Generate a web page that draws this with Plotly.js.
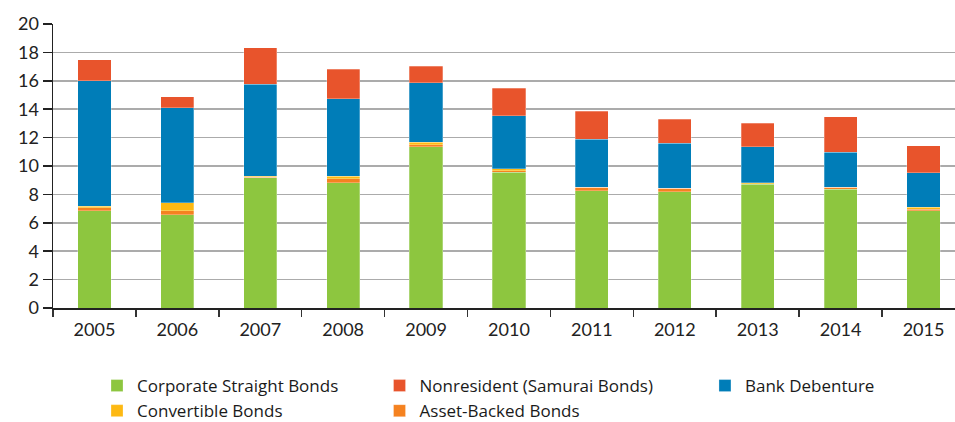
<!DOCTYPE html>
<html><head><meta charset="utf-8">
<script src="https://cdn.plot.ly/plotly-3.0.1.min.js"></script>
<style>html,body{margin:0;padding:0;background:#fff;overflow:hidden}#chart{width:955px;height:422px}</style>
</head><body><div id="chart"></div>
<script>
const years = ['2005','2006','2007','2008','2009','2010','2011','2012','2013','2014','2015'];
const corporateStraight = [6.85, 6.55, 9.18, 8.82, 11.36, 9.55, 8.26, 8.19, 8.71, 8.38, 6.85];
const assetBacked       = [0.20, 0.30, 0.02, 0.30, 0.14, 0.10, 0.24, 0.24, 0.03, 0.12, 0.12];
const convertible       = [0.10, 0.55, 0.08, 0.15, 0.17, 0.14, 0.00, 0.00, 0.08, 0.00, 0.12];
const bankDebenture     = [8.85, 6.70, 6.47, 5.47, 4.20, 3.75, 3.38, 3.17, 2.54, 2.46, 2.44];
const nonresident       = [1.50, 0.78, 2.58, 2.09, 1.17, 1.93, 1.99, 1.69, 1.64, 2.51, 1.90];

const font = 'Lato, "Open Sans", sans-serif';
const legFont = '"Open Sans", Lato, sans-serif';
const edge = {color: 'rgba(255,255,255,0.45)', width: 0.6};
function bar(name, y, color, legend, rank) {
  return {type: 'bar', x: years, y: y, name: name, legend: legend, legendrank: rank,
          marker: {color: color, line: edge}, hoverinfo: 'x+y+name'};
}
const data = [
  bar('Corporate Straight Bonds', corporateStraight, '#8DC63F', 'legend', 1),
  bar('Asset-Backed Bonds', assetBacked, '#F58220', 'legend2', 2),
  bar('Convertible Bonds', convertible, '#FDB913', 'legend', 2),
  bar('Bank Debenture', bankDebenture, '#007DB8', 'legend3', 1),
  bar('Nonresident (Samurai Bonds)', nonresident, '#E8542C', 'legend2', 1)
];
const legBase = {orientation: 'v', xref: 'paper', yref: 'paper', yanchor: 'top', xanchor: 'left',
  y: -0.2113, font: {family: legFont, size: 17, color: '#1a1a1a'}, bgcolor: 'rgba(0,0,0,0)',
  itemwidth: 30, tracegroupgap: 0, traceorder: 'normal', borderwidth: 0};
const layout = {
  width: 955, height: 422,
  margin: {l: 53, r: 0, t: 24, b: 114, autoexpand: false},
  barmode: 'stack', bargap: 0.6,
  paper_bgcolor: '#fff', plot_bgcolor: '#fff',
  font: {family: font, size: 18, color: '#222'},
  showlegend: true,
  legend: Object.assign({}, legBase, {x: 0.0488}),
  legend2: Object.assign({}, legBase, {x: 0.362}),
  legend3: Object.assign({}, legBase, {x: 0.7228}),
  xaxis: {type: 'category', range: [-0.5, 10.38], tickson: 'boundaries', ticks: 'outside', ticklen: 7,
          tickwidth: 1.5, tickcolor: '#333', showline: true, linecolor: '#222', linewidth: 2,
          showgrid: false, ticklabelstandoff: 4,
          tickfont: {family: font, size: 18, color: '#222'}, fixedrange: true},
  yaxis: {range: [0, 20], dtick: 2, tick0: 0, ticks: 'outside', ticklen: 9, tickwidth: 1.5,
          tickcolor: '#222', showline: true, linecolor: '#222', linewidth: 1.5,
          showgrid: true, gridcolor: '#ababab', gridwidth: 1.5, zeroline: false,
          tickfont: {family: font, size: 18, color: '#222'}, fixedrange: true}
};
Plotly.newPlot('chart', data, layout, {displayModeBar: false, staticPlot: true});
</script></body></html>
